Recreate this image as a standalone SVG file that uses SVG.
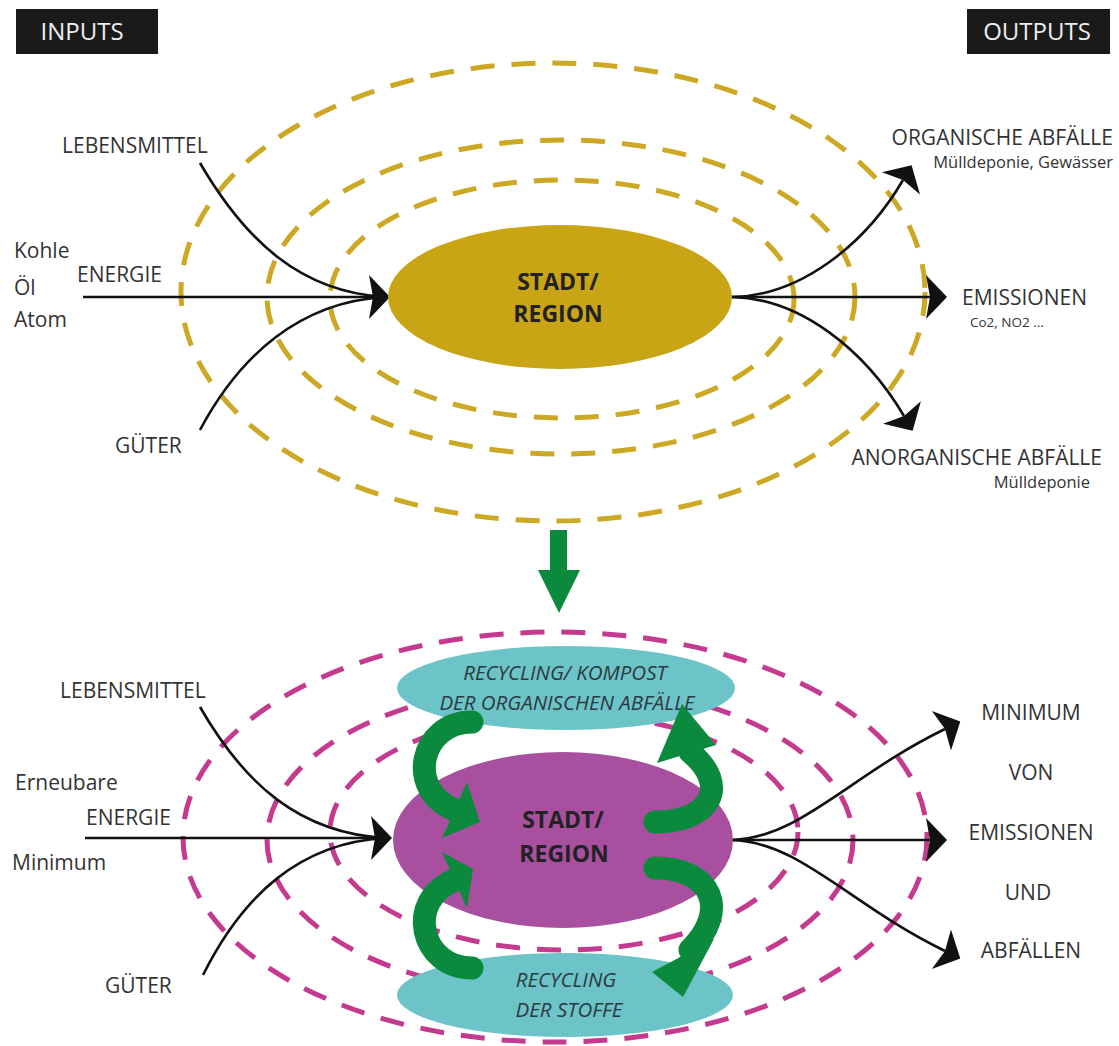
<svg xmlns="http://www.w3.org/2000/svg" width="1119" height="1046" viewBox="0 0 1119 1046">
  <style>
    .lbl { font-family: "Open Sans", "Noto Sans", "Liberation Sans", sans-serif; font-size: 21px; fill: #333; }
    .small { font-family: "Open Sans", "Noto Sans", "Liberation Sans", sans-serif; font-size: 16.5px; fill: #333; }
    .hdr { font-family: "Open Sans", "Noto Sans", "Liberation Sans", sans-serif; font-size: 24px; fill: #eee; text-anchor: middle; }
    .core { font-family: "Open Sans", "Noto Sans", "Liberation Sans", sans-serif; font-size: 23px; font-weight: bold; fill: #222; text-anchor: middle; }
    .cyc { font-family: "Open Sans", "Noto Sans", "Liberation Sans", sans-serif; font-size: 20.5px; font-style: italic; fill: #2c3a3f; text-anchor: middle; }
    .ring-y { fill: none; stroke: #cca824; stroke-width: 5; stroke-dasharray: 24 17; }
    .ring-p { fill: none; stroke: #c43a8e; stroke-width: 5; stroke-dasharray: 24 17; }
    .flow { fill: none; stroke: #111; stroke-width: 2.6; }
    .loop { fill: none; stroke: #0b8a3e; stroke-width: 23; stroke-linecap: round; }
    .loophead { fill: #0b8a3e; }
  </style>
  <defs>
    <marker id="head" markerUnits="userSpaceOnUse" orient="auto" refX="4" refY="0" overflow="visible">
      <path d="M0,-22 L21,0 L0,22 L4,0 Z" fill="#111"/>
    </marker>
  </defs>

  <rect width="1119" height="1046" fill="#fff"/>

  <!-- header tabs -->
  <g id="inputs-tab">
    <rect x="16" y="9" width="142" height="45" fill="#1a1a1a"/>
    <text class="hdr" x="82" y="40">INPUTS</text>
  </g>
  <g id="outputs-tab">
    <rect x="967" y="9" width="143" height="45" fill="#1a1a1a"/>
    <text class="hdr" x="1037" y="40">OUTPUTS</text>
  </g>

  <!-- ===== linear metabolism ===== -->
  <g id="rings-linear">
    <ellipse class="ring-y" cx="553" cy="292" rx="372" ry="229"/>
    <ellipse class="ring-y" cx="561" cy="297" rx="294" ry="157"/>
    <ellipse class="ring-y" cx="562" cy="299" rx="232" ry="119"/>
  </g>

  <g id="connectors-linear">
    <path class="flow" d="M200,163 C245,240 300,292 385,297"/>
    <path class="flow" d="M200,430 C240,355 300,302 385,297"/>
    <path class="flow" d="M83,297 L373,297" marker-end="url(#head)"/>
    <path class="flow" d="M732,297 C800,296 865,245 903,180" marker-end="url(#head)"/>
    <path class="flow" d="M732,297 L930,297" marker-end="url(#head)"/>
    <path class="flow" d="M732,297 C800,298 865,350 904,416" marker-end="url(#head)"/>
  </g>

  <g id="city-linear">
    <ellipse cx="560" cy="297" rx="172" ry="72" fill="#c9a515"/>
    <text class="core" x="558" y="290">STADT/</text>
    <text class="core" x="558" y="322">REGION</text>
  </g>

  <g id="in-linear">
    <text class="lbl" x="62" y="153">LEBENSMITTEL</text>
    <text class="lbl" x="14" y="258">Kohle</text>
    <text class="lbl" x="77" y="282">ENERGIE</text>
    <text class="lbl" x="14" y="295">Öl</text>
    <text class="lbl" x="14" y="327">Atom</text>
    <text class="lbl" x="115" y="453">GÜTER</text>
  </g>

  <g id="out-linear">
    <text class="lbl" x="1113" y="145" text-anchor="end">ORGANISCHE ABFÄLLE</text>
    <text class="small" x="1113" y="168" text-anchor="end">Mülldeponie, Gewässer</text>
    <text class="lbl" x="962" y="305">EMISSIONEN</text>
    <text class="small" x="970" y="327" style="font-size:13.5px">Co2, NO2 ...</text>
    <text class="lbl" x="1102" y="465" text-anchor="end">ANORGANISCHE ABFÄLLE</text>
    <text class="small" x="1090" y="488" text-anchor="end">Mülldeponie</text>
  </g>

  <!-- transition arrow -->
  <g id="transition">
    <polygon points="550,530 567,530 567,570 580,570 559,613 538,570 550,570" fill="#0b8a3e"/>
  </g>

  <!-- ===== circular metabolism ===== -->
  <g id="rings-circular">
    <ellipse class="ring-p" cx="555" cy="837" rx="372" ry="205"/>
    <ellipse class="ring-p" cx="560" cy="840" rx="293" ry="155"/>
    <ellipse class="ring-p" cx="564" cy="832" rx="234" ry="118"/>
  </g>

  <g id="connectors-circular">
    <path class="flow" d="M200,707 C245,785 300,833 385,838"/>
    <path class="flow" d="M203,975 C243,895 300,843 385,838"/>
    <path class="flow" d="M85,838 L375,838" marker-end="url(#head)"/>
    <path class="flow" d="M732,840 C800,838 850,775 945,729" marker-end="url(#head)"/>
    <path class="flow" d="M732,840 L930,840" marker-end="url(#head)"/>
    <path class="flow" d="M732,840 C800,842 850,905 945,951" marker-end="url(#head)"/>
  </g>

  <g id="city-circular">
    <ellipse cx="563" cy="840" rx="170" ry="88" fill="#a8509f"/>
    <text class="core" x="563" y="828">STADT/</text>
    <text class="core" x="564" y="862">REGION</text>
  </g>

  <g id="compost">
    <ellipse cx="566" cy="688" rx="169" ry="42" fill="#6cc3c8"/>
    <text class="cyc" x="565" y="680">RECYCLING/ KOMPOST</text>
    <text class="cyc" x="567" y="710">DER ORGANISCHEN ABFÄLLE</text>
  </g>

  <g id="material-recycling">
    <ellipse cx="565" cy="995" rx="168" ry="42" fill="#6cc3c8"/>
    <text class="cyc" x="566" y="987">RECYCLING</text>
    <text class="cyc" x="569" y="1017">DER STOFFE</text>
  </g>

  <g id="loops">
    <path class="loop" d="M472,722 C420,722 405,790 455,810"/>
    <polygon class="loophead" points="467,782 442,838 480,822"/>
    <path class="loop" d="M472,968 C420,968 405,900 455,880"/>
    <polygon class="loophead" points="467,908 442,852 473,869"/>
    <path class="loop" d="M655,822 C712,822 730,785 690,752"/>
    <polygon class="loophead" points="657,763 716,745 682,704"/>
    <path class="loop" d="M655,868 C712,868 730,910 690,950"/>
    <polygon class="loophead" points="652,972 714,939 683,997"/>
  </g>

  <g id="in-circular">
    <text class="lbl" x="60" y="698">LEBENSMITTEL</text>
    <text class="lbl" x="15" y="790">Erneubare</text>
    <text class="lbl" x="86" y="825">ENERGIE</text>
    <text class="lbl" x="12" y="870">Minimum</text>
    <text class="lbl" x="105" y="993">GÜTER</text>
  </g>

  <g id="out-circular" text-anchor="middle">
    <text class="lbl" x="1031" y="720">MINIMUM</text>
    <text class="lbl" x="1031" y="780">VON</text>
    <text class="lbl" x="1031" y="840">EMISSIONEN</text>
    <text class="lbl" x="1028" y="900">UND</text>
    <text class="lbl" x="1031" y="958">ABFÄLLEN</text>
  </g>
</svg>
